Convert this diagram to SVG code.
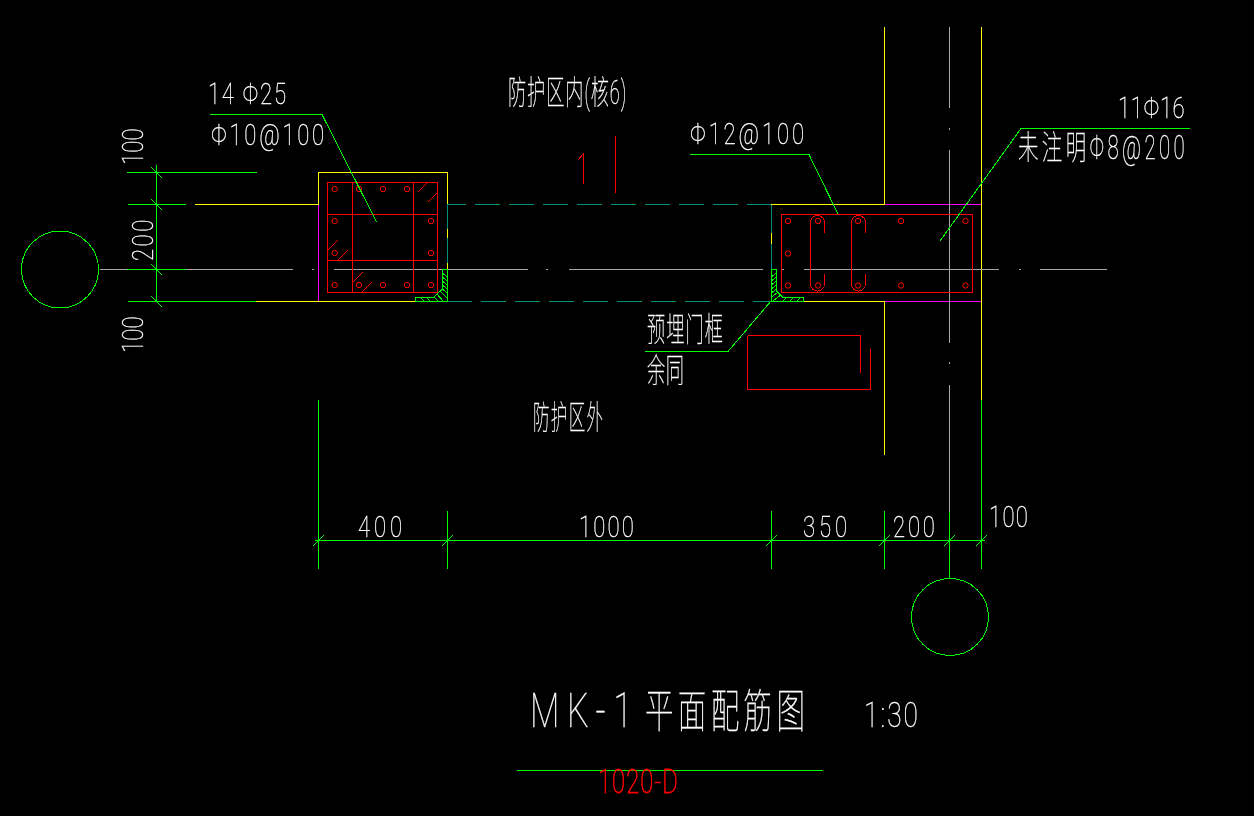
<svg xmlns="http://www.w3.org/2000/svg" width="1254" height="816" viewBox="0 0 1254 816">
<style>
.l{fill:none;stroke-width:1;shape-rendering:crispEdges}
.g{stroke:#00ff00}.y{stroke:#ffff00}.m{stroke:#ff00ff}.r{stroke:#ff0000}.a{stroke:#a8a8a8}.t{stroke:#009078}
.td{stroke-dasharray:25 9}
#labels{opacity:.999}
text{font-family:"Roboto","Noto Sans CJK SC",sans-serif;font-weight:100;fill:#fff;stroke:#fff;stroke-width:.35;font-size:29.500px}
.c{font-size:33px}
</style>
<defs>
<circle id="b" r="2.7" fill="none" stroke="#ff0000" stroke-width="1"/>
<path id="st" class="l r" d="M14,18V8A7,7 0 0 0 0,8V69.500A7,7 0 0 0 14,69.500V59"/>
<path id="tk" class="l g" d="M-5.500,5.500L5.500,-5.500"/>
<path id="tb" class="l g" d="M-5.500,-5.500L5.500,5.500"/>
</defs>
<rect width="1254" height="816" fill="#000"/>

<g id="walls">
<path class="l y" d="M195,204.500H318.500V172.500H447.500V204"/>
<path class="l m" d="M318.500,204.500V301"/>
<path class="l y" d="M256,301.500H415"/>
<path class="l y" d="M447.500,229V238M447.500,263V269"/>
<path class="l t" d="M447.500,204V229M447.500,238V263"/>
<path class="l t td" stroke-dashoffset="6" d="M447,204.500H771"/>
<path class="l t td" d="M447,301.500H771"/>
<path class="l y" d="M771.500,233V244"/>
<path class="l t" d="M771.500,204V233M771.500,244V269"/>
<path class="l y" d="M771,204.500H884.500V27"/>
<path class="l m" d="M885,204.500H981M885,301.500H981"/>
<path class="l y" d="M804,301.500H884.500V455"/>
<path class="l y" d="M981.500,27V400"/>
</g>

<g id="axes">
<path class="l a" d="M100,269.500H127M186,269.500H293M312,269.500H314M334,269.500H528M546,269.500H548M569,269.500H763M782,269.500H784M804,269.500H999M1019,269.500H1021M1040,269.500H1107"/>
<path class="l a" d="M949.500,27V108M949.500,128V130M949.500,150V343M949.500,362V364M949.500,385V512"/>
<circle class="l g" cx="60" cy="269.500" r="38.500"/>
<circle class="l g" cx="950" cy="617" r="38.500"/>
</g>

<g id="column-left">
<rect class="l r" x="327.500" y="182.500" width="110" height="110"/>
<path class="l r" d="M352.500,182V292M413.500,182V292M327,214.500H437M327,260.500H437"/>
<path class="l r" d="M418,192L427,183M428,202L437,193M328,250L338,240M338,260L348,250M353,282L363,272M362,292L372,282"/>
<use href="#b" x="334.700" y="189"/><use href="#b" x="359" y="189"/><use href="#b" x="383" y="189"/><use href="#b" x="407" y="189"/>
<use href="#b" x="334.700" y="221"/><use href="#b" x="431" y="221"/><use href="#b" x="334.700" y="253"/><use href="#b" x="431" y="253"/>
<use href="#b" x="334.700" y="285"/><use href="#b" x="359" y="285"/><use href="#b" x="383" y="285"/><use href="#b" x="407" y="285"/><use href="#b" x="431" y="285"/>
<path class="l g" d="M447.500,269V301.500H415.500V297.500H433.500L442.500,289V269H447.500M442.500,273L447,277M442.500,277L447,281M442.500,281L447,285M442.500,285L447,289M442.500,289L447,293M440,291L447,298M437,294L443,301M434,297L438,301M426,297L430,301M420,297L424,301"/>
</g>

<g id="column-right">
<rect class="l r" x="781.500" y="214.500" width="191" height="78"/>
<use href="#st" x="810.500" y="214.500"/><use href="#st" x="851.500" y="214.500"/>
<use href="#b" x="788" y="221"/><use href="#b" x="818" y="221"/><use href="#b" x="858" y="221"/><use href="#b" x="901" y="221"/><use href="#b" x="965.500" y="221"/>
<use href="#b" x="788" y="253.500"/>
<use href="#b" x="788" y="285.500"/><use href="#b" x="818" y="285.500"/><use href="#b" x="858" y="285.500"/><use href="#b" x="901" y="285.500"/><use href="#b" x="965.500" y="285.500"/>
<path class="l g" d="M771.500,269V301.500H803.500V297.500H783L776.500,291V269H771.500M771.500,277L776,273M771.500,281L776,277M771.500,285L776,281M771.500,289L776,285M771.500,293L776,289M771.500,297L778,292M773,301L781,295M783,301L787,297M790,301L794,297M797,301L801,297"/>
</g>

<g id="section-marks">
<path class="l r" d="M615.500,136V193"/>
<path class="l r" d="M747.500,335.500H860.500V373M870.500,349V389.500H747.500V335.500"/>
<path class="l r" d="M578,160L583.500,153.500V184"/>
</g>

<g id="connectors">
<path class="l g" d="M210,114.500H322L376.500,222"/>
<path class="l g" d="M690,154.500H809L838,214"/>
<path class="l g" d="M1190,128.500H1021L940,241"/>
<path class="l g" d="M645,351.500H728L771,301"/>
<path class="l g" d="M517,770.500H823"/>
</g>

<g id="dimensions">
<path class="l g" d="M156.500,165V301.500M127,172.500H257M128,204.500H186M127,269.500H186M128,301.500H256"/>
<use href="#tb" x="156.500" y="204.500"/><use href="#tb" x="156.500" y="269.500"/><use href="#tb" x="156.500" y="301.500"/><use href="#tb" x="156.500" y="172.500"/>
<path class="l g" d="M315,540.500H985M318.500,400V569M447.500,511V569M771.500,511V569M884.500,511V569M949.500,512V578M981.500,400V569"/>
<use href="#tk" x="318.500" y="540.500"/><use href="#tk" x="447.500" y="540.500"/><use href="#tk" x="771.500" y="540.500"/><use href="#tk" x="884.500" y="540.500"/><use href="#tk" x="949.500" y="540.500"/><use href="#tk" x="981.500" y="540.500"/>
</g>

<g id="labels">
<text transform="translate(208 104) scale(.75 1)" textLength="104" lengthAdjust="spacing">14 Φ25</text>
<text transform="translate(211 145) scale(.75 1)" textLength="151" lengthAdjust="spacing">Φ10@100</text>
<text class="c" transform="translate(508 104) scale(.55 1)" textLength="215" lengthAdjust="spacing">防护区内(核6)</text>
<text transform="translate(690 144) scale(.75 1)" textLength="152" lengthAdjust="spacing">Φ12@100</text>
<text transform="translate(1118 118) scale(.75 1)" textLength="89" lengthAdjust="spacing">11Φ16</text>
<text class="c" transform="translate(1018 159) scale(.62 1)" textLength="269" lengthAdjust="spacing">未注明Φ8@200</text>
<text transform="translate(143 165) rotate(-90) scale(.75 1)" textLength="49" lengthAdjust="spacing">100</text>
<text transform="translate(153 261) rotate(-90) scale(.75 1)" textLength="55" lengthAdjust="spacing">200</text>
<text transform="translate(143 353) rotate(-90) scale(.75 1)" textLength="49" lengthAdjust="spacing">100</text>
<text class="c" transform="translate(647 341) scale(.55 1)" textLength="138" lengthAdjust="spacing">预埋门框</text>
<text class="c" transform="translate(647 382) scale(.55 1)" textLength="67" lengthAdjust="spacing">余同</text>
<text class="c" transform="translate(533 429) scale(.5 1)" textLength="140" lengthAdjust="spacing">防护区外</text>
<text transform="translate(358 537) scale(.75 1)" textLength="59" lengthAdjust="spacing">400</text>
<text transform="translate(579 537) scale(.75 1)" textLength="73" lengthAdjust="spacing">1000</text>
<text transform="translate(803 537) scale(.75 1)" textLength="59" lengthAdjust="spacing">350</text>
<text transform="translate(893 537) scale(.75 1)" textLength="56" lengthAdjust="spacing">200</text>
<text transform="translate(989 527) scale(.75 1)" textLength="52" lengthAdjust="spacing">100</text>
<text transform="translate(530 727) scale(.7 1)" style="font-size:49px" textLength="146" lengthAdjust="spacing">MK-1</text>
<text transform="translate(645 727) scale(.62 1)" style="font-size:46px" textLength="258" lengthAdjust="spacing">平面配筋图</text>
<text transform="translate(864 727) scale(.75 1)" style="font-size:35px" textLength="72" lengthAdjust="spacing">1:30</text>
<text transform="translate(598 793) scale(.72 1)" style="font-size:33px;fill:#ff0000;stroke:#ff0000;stroke-width:.8" textLength="111" lengthAdjust="spacing">1020-D</text>
</g>
</svg>
